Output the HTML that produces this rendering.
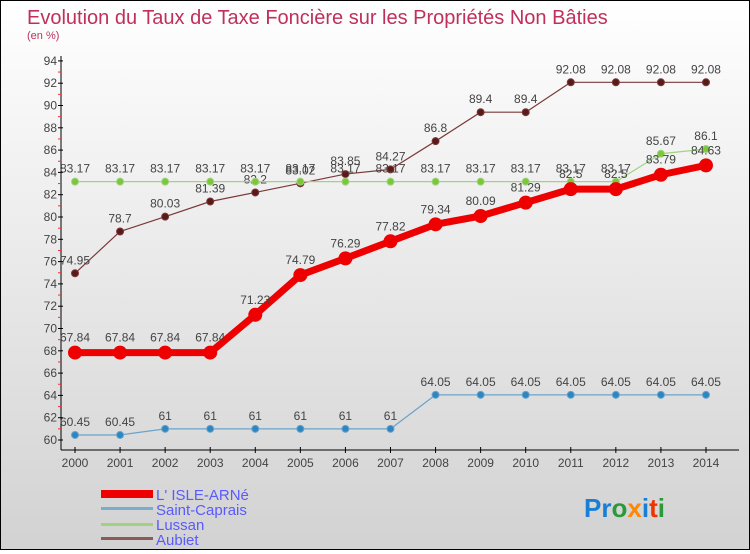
<!DOCTYPE html>
<html><head><meta charset="utf-8"><style>
html,body{margin:0;padding:0}
body{width:750px;height:550px;overflow:hidden;font-family:"Liberation Sans",sans-serif}
#wrap{position:relative;width:748px;height:548px;border:1px solid #000;background:linear-gradient(#ffffff,#d2d2d2)}
</style></head><body>
<div id="wrap">
<svg id="chart" width="748" height="548" xmlns="http://www.w3.org/2000/svg">
<text x="26" y="23" font-size="20" fill="#c0305a">Evolution du Taux de Taxe Foncière sur les Propriétés Non Bâties</text>
<text x="26" y="38" font-size="11" fill="#c0305a">(en %)</text>
<g id="axes"></g>
<g id="series"></g>
<g>
<rect x="100" y="489" width="52" height="8" fill="#ee0000"/>
<text x="155" y="499" font-size="15" fill="#5a5aff">L' ISLE-ARNé</text>
<rect x="100" y="506" width="52" height="3" fill="#7aaccc"/>
<text x="155" y="514" font-size="15" fill="#5a5aff">Saint-Caprais</text>
<rect x="100" y="522" width="52" height="3" fill="#9fd37f"/>
<text x="155" y="529" font-size="15" fill="#5a5aff">Lussan</text>
<rect x="100" y="536" width="52" height="3" fill="#8b5a5a"/>
<text x="155" y="544" font-size="15" fill="#5a5aff">Aubiet</text>
</g>
<text x="583" y="516" font-size="26" font-weight="bold"><tspan fill="#1a7fd4">Pr</tspan><tspan fill="#2a9a3a">o</tspan><tspan fill="#ff8800">x</tspan><tspan fill="#1a7fd4">i</tspan><tspan fill="#ee3300">t</tspan><tspan fill="#2a9a3a">i</tspan></text>
</svg></div>
<script>
const years=[2000,2001,2002,2003,2004,2005,2006,2007,2008,2009,2010,2011,2012,2013,2014];
const yTicks=[60,62,64,66,68,70,72,74,76,78,80,82,84,86,88,90,92,94];
const isle=[67.84,67.84,67.84,67.84,71.23,74.79,76.29,77.82,79.34,80.09,81.29,82.5,82.5,83.79,84.63];
const caprais=[60.45,60.45,61,61,61,61,61,61,64.05,64.05,64.05,64.05,64.05,64.05,64.05];
const lussan=[83.17,83.17,83.17,83.17,83.17,83.17,83.17,83.17,83.17,83.17,83.17,83.17,83.17,85.67,86.1];
const aubiet=[74.95,78.7,80.03,81.39,82.2,83.02,83.85,84.27,86.8,89.4,89.4,92.08,92.08,92.08,92.08];
const NS="http://www.w3.org/2000/svg";
const X=i=>74+i*45.07;
const Y=v=>439-(v-60)*11.15;
function mk(t,a,p){const e=document.createElementNS(NS,t);for(const k in a)e.setAttribute(k,a[k]);p.appendChild(e);return e;}
const ax=document.getElementById('axes');
const yl=mk('line',{x1:60,y1:55,x2:60,y2:449,stroke:'#000'},ax);


const xl=mk('line',{x1:60,y1:449,x2:738,y2:449,stroke:'#000'},ax);


yTicks.forEach(v=>{
  mk('line',{x1:57,y1:Y(v),x2:62,y2:Y(v),stroke:'#000'},ax);
  if(v<94) mk('line',{x1:57,y1:Y(v+1),x2:60,y2:Y(v+1),stroke:'#e33'},ax);
  const t=mk('text',{x:56,y:Y(v)+4,'font-size':12,'text-anchor':'end',fill:'#444'},ax);
  t.textContent=v;
  
  
});
years.forEach((y,i)=>{
  mk('line',{x1:X(i),y1:446,x2:X(i),y2:452,stroke:'#000'},ax);
  const t=mk('text',{x:X(i),y:466,'font-size':12,'text-anchor':'middle',fill:'#444'},ax);
  t.textContent=y;
  
  
});
const sg=document.getElementById('series');
function series(vals,name,stroke,w,fill,r,dy){
  const g=mk('g',{},sg);
  
  
  const l=mk('polyline',{points:vals.map((v,i)=>X(i)+','+Y(v)).join(' '),fill:'none',stroke:stroke,'stroke-width':w,'stroke-linejoin':'round'},g);
  
  
  vals.forEach((v,i)=>{
    const c=mk('circle',{cx:X(i),cy:Y(v),r:r,fill:fill,stroke:stroke,'stroke-width':1},g);
    
    
    const t=mk('text',{x:X(i),y:Y(v)-dy,'font-size':12,'text-anchor':'middle',fill:'#444'},g);
    t.textContent=v;
    
    
  });
}
series(aubiet,'aubiet','#7a3a3a',1.2,'#5a1a1a',3.5,9);
series(lussan,'lussan','#9fd37f',1.2,'#7cc63a',3.5,9);
series(caprais,'saint-caprais','#6aa3cc',1.2,'#2e86c1',3.5,9);
series(isle,'isle-arne','#ee0000',7,'#ee0000',6.5,11);
</script>
</body></html>
